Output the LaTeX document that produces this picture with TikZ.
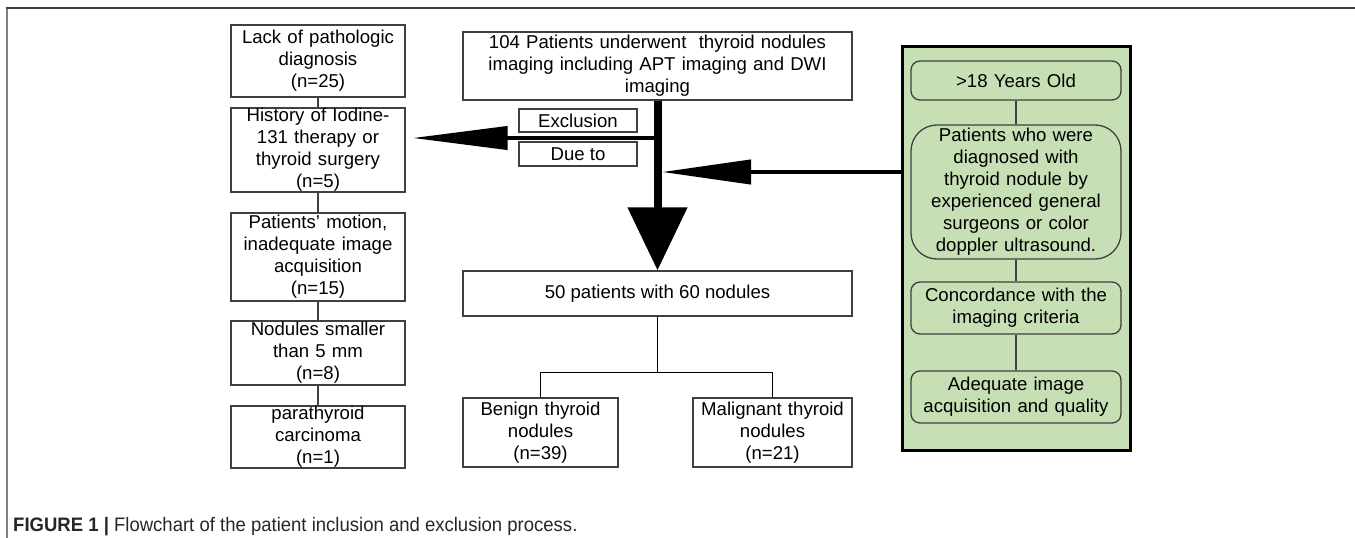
\documentclass[tikz,border=0pt]{standalone}
\usepackage{fontspec}
\setmainfont{Liberation Sans}
\usetikzlibrary{arrows.meta}
\definecolor{boxline}{HTML}{404040}
\definecolor{greenfill}{HTML}{C6DFB4}
\tikzset{
  basebox/.style={draw=boxline, line width=1.3pt, fill=white, inner sep=0pt, align=center,
    font=\fontsize{18.6}{22}\selectfont},
  leftbox/.style={basebox, minimum width=174pt, text width=170pt},
  critbox/.style={draw=boxline, line width=1.3pt, fill=greenfill, inner sep=0pt, align=center,
    rounded corners=9pt, minimum width=210pt, text width=206pt,
    font=\fontsize{18.6}{22}\selectfont},
  link/.style={draw=boxline, line width=1.4pt},
  bigarrow/.style={line width=8pt, -{Triangle[length=63pt,width=58pt]}},
  sidearrow/.style={line width=4pt},
}
\begin{document}
\begin{tikzpicture}[x=1pt,y=-1pt]
\useasboundingbox (0,0) rectangle (1355,538);
% frame
\draw[color=gray, line width=1.6pt] (7,9) -- (7,538);
\draw[color=boxline, line width=2pt] (6,8) -- (1355,8);

% left column
\node[leftbox, minimum height=72pt] (lack) at (318,61) {Lack of pathologic\\diagnosis\\(n=25)};
\node[leftbox, minimum height=84pt] (hist) at (318,150) {History of Iodine-\\131 therapy or\\thyroid surgery\\(n=5)};
\node[leftbox, minimum height=88pt] (motion) at (318,257) {Patients' motion,\\inadequate image\\acquisition\\(n=15)};
\node[leftbox, minimum height=64pt] (small) at (318,353) {Nodules smaller\\than 5 mm\\(n=8)};
\node[leftbox, minimum height=62pt] (para) at (318,437) {parathyroid\\carcinoma\\(n=1)};
\draw[link] (lack) -- (hist);
\draw[link] (hist) -- (motion);
\draw[link] (motion) -- (small);
\draw[link] (small) -- (para);

% middle column
\node[basebox, minimum width=389pt, minimum height=68pt, text width=380pt] (top) at (657.5,66)
  {104 Patients underwent\ \ thyroid nodules\\imaging including APT imaging and DWI\\imaging};
\node[basebox, minimum width=118pt, minimum height=23pt] (excl) at (578,120.5) {Exclusion};
\node[basebox, minimum width=118pt, minimum height=24pt] (due) at (578,154) {Due to};
\node[basebox, minimum width=389pt, minimum height=45pt] (fifty) at (657.5,293.5) {50 patients with 60 nodules};
\node[basebox, minimum width=155pt, minimum height=69pt, text width=150pt] (benign) at (540.5,432.5)
  {Benign thyroid\\nodules\\(n=39)};
\node[basebox, minimum width=159pt, minimum height=69pt, text width=155pt] (malig) at (772.5,432.5)
  {Malignant thyroid\\nodules\\(n=21)};

% green criteria panel
\node[draw=black, line width=3pt, fill=greenfill, minimum width=228pt, minimum height=404pt, inner sep=0pt]
  (panel) at (1016,248) {};
\node[critbox, minimum height=39pt] (age) at (1016,80.5) {>18 Years Old};
\node[critbox, minimum height=134pt, rounded corners=26pt] (diag) at (1016,192)
  {Patients who were\\diagnosed with\\thyroid nodule by\\experienced general\\surgeons or color\\doppler ultrasound.};
\node[critbox, minimum height=52pt] (conc) at (1016,308) {Concordance with the\\imaging criteria};
\node[critbox, minimum height=52pt] (adeq) at (1016,397) {Adequate image\\acquisition and quality};
\draw[link] (age) -- (diag);
\draw[link] (diag) -- (conc);
\draw[link] (conc) -- (adeq);

% arrows
\coordinate (j1) at (658,138);
\coordinate (j2) at (662,172);
\draw[bigarrow] (top.south) -- (fifty.north);
\draw[sidearrow, -{Triangle[length=95pt,width=23pt]}, shorten >=7pt] (j1) -- (j1 -| hist.east);
\draw[sidearrow, -{Triangle[length=89pt,width=24pt]}] (j2 -| panel.west) -- (j2);

% branches
\draw[draw=black, line width=1.5pt] (fifty.south) -- ++(0,56) coordinate (br) -| (benign.north);
\draw[draw=black, line width=1.5pt] (br) -| (malig.north);

% caption
\node[anchor=base west, inner sep=0pt, font=\fontsize{19.5}{22}\selectfont, text=black!85] (cap) at (13,531)
  {\scalebox{0.95}[1]{\textbf{FIGURE 1 |} Flowchart of the patient inclusion and exclusion process.}};
\end{tikzpicture}
\end{document}
